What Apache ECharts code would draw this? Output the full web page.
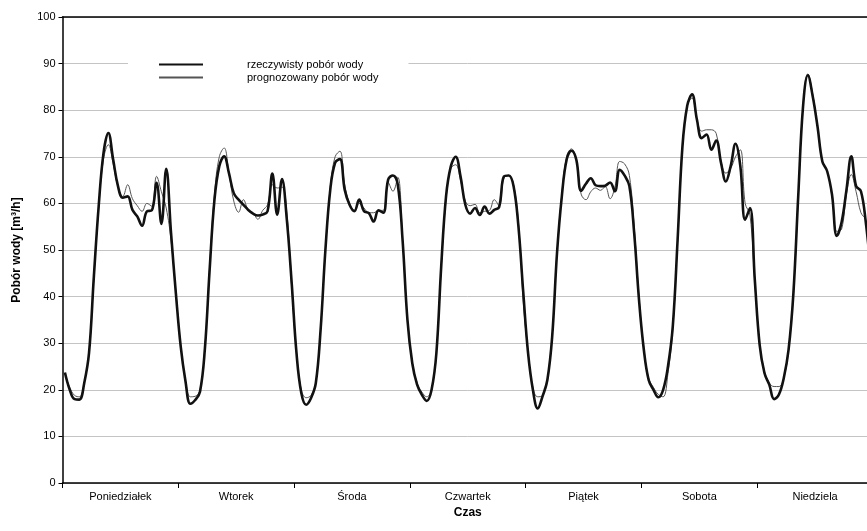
<!DOCTYPE html>
<html>
<head>
<meta charset="utf-8">
<script src="https://cdn.jsdelivr.net/npm/echarts@6/dist/echarts.min.js"></script>
<style>
  html, body { margin: 0; padding: 0; background: #fff; overflow: hidden; }
  /* wykres jest nieco szerszy niż okno - prawa krawędź obcięta jak w oryginale */
  #chart { width: 873px; height: 531px; }
</style>
</head>
<body>
<div id="chart"></div>
<script>
// dni tygodnia (kategorie osi X)
const days = ['Poniedziałek', 'Wtorek', 'Środa', 'Czwartek', 'Piątek', 'Sobota', 'Niedziela']

// rzeczywisty pobór wody, wartości godzinowe [m3/h]
const actual = [
  // pon
  23.7, 20.0, 18.0, 17.9, 21.4, 27.9, 44.3, 59.4, 70.8, 75.1, 69.4, 63.7,
  61.2, 61.5, 58.6, 57.2, 55.2, 58.3, 58.5, 64.4, 55.6, 67.4, 53.6, 40.7,
  // wt
  29.3, 21.8, 17.0, 17.8, 19.6, 28.6, 45.8, 60.8, 68.0, 70.1, 66.5, 62.2,
  60.8, 59.7, 58.6, 57.8, 57.4, 57.6, 58.3, 66.4, 57.6, 65.2, 56.5, 43.0,
  // sr
  27.9, 19.3, 16.8, 18.2, 21.4, 32.9, 50.1, 62.9, 68.7, 69.5, 62.9, 59.7,
  58.3, 60.8, 58.3, 57.9, 56.1, 58.5, 58.0, 65.1, 66.0, 64.0, 52.0, 35.0,
  // czw
  25.7, 21.1, 18.9, 17.6, 20.0, 27.9, 46.5, 61.5, 68.0, 70.0, 65.8, 59.7,
  57.8, 59.0, 57.5, 59.3, 57.8, 58.6, 59.2, 65.8, 66.0, 63.7, 55.1, 41.0,
  // pt
  27.9, 20.0, 16.0, 18.6, 22.1, 31.4, 49.3, 61.5, 69.4, 71.3, 69.4, 62.7,
  64.2, 65.4, 63.9, 63.7, 63.8, 64.5, 62.6, 67.2, 66.0, 63.7, 53.6, 39.3,
  // sob
  28.6, 22.1, 20.0, 18.4, 20.0, 25.0, 33.6, 52.2, 72.2, 81.0, 83.4, 78.0,
  74.0, 74.8, 71.5, 73.5, 68.7, 64.7, 68.0, 72.8, 68.0, 56.5, 59.0, 43.6,
  // nd
  29.7, 23.6, 21.1, 18.0, 19.0, 22.5, 28.6, 40.7, 61.5, 80.8, 87.5, 83.0,
  76.5, 69.0, 66.9, 61.9, 53.0, 56.0, 62.9, 70.1, 63.7, 62.6, 56.0, 46.0
]

// prognozowany pobór wody [m3/h]
const forecast = [
  // pon
  23.5, 20.5, 18.8, 18.5, 21.5, 28.0, 44.0, 59.0, 69.5, 72.6, 68.5, 63.5,
  61.5, 64.0, 61.0, 59.5, 58.3, 60.0, 59.4, 65.8, 62.5, 59.0, 52.0, 41.0,
  // wt
  29.5, 22.0, 18.5, 18.6, 20.0, 29.0, 46.5, 62.0, 70.0, 71.9, 66.5, 60.5,
  58.1, 60.8, 58.6, 58.0, 56.6, 58.5, 59.7, 64.0, 63.3, 63.5, 58.0, 42.0,
  // sr
  28.0, 20.0, 18.3, 18.8, 21.5, 33.0, 50.0, 63.5, 70.0, 71.2, 64.0, 60.0,
  58.6, 60.0, 59.0, 58.0, 58.0, 58.5, 58.5, 64.5, 62.6, 65.6, 52.0, 35.0,
  // czw
  26.0, 21.5, 19.5, 18.5, 20.0, 28.0, 46.0, 61.0, 67.5, 68.3, 65.0, 60.5,
  59.5, 59.8, 58.0, 58.3, 58.5, 60.8, 59.5, 65.5, 66.0, 64.0, 56.0, 39.0,
  // pt
  28.0, 20.5, 18.5, 18.8, 22.0, 31.5, 49.5, 62.0, 70.0, 71.7, 69.5, 62.0,
  60.8, 62.5, 63.3, 62.8, 63.6, 61.0, 63.5, 69.0, 68.5, 66.0, 55.0, 40.0,
  // sob
  29.0, 22.5, 20.5, 19.0, 18.5, 23.5, 33.0, 52.0, 72.0, 81.0, 82.6, 78.0,
  75.5, 75.8, 75.8, 75.0, 69.0, 66.5, 67.5, 70.0, 71.5, 60.0, 57.5, 43.0,
  // nd
  30.0, 24.0, 21.5, 20.7, 20.7, 22.5, 28.5, 40.5, 61.0, 81.0, 87.8, 83.5,
  76.5, 69.0, 66.9, 61.5, 54.0, 54.5, 62.0, 66.2, 62.5, 58.0, 56.5, 52.0
]

const chart = echarts.init(document.getElementById('chart'))

// punkty w środku godziny (jak w Excelu - "między znacznikami")
const toPoints = (arr) => arr.map((v, i) => [i + 0.5, v])

const font = 'Liberation Sans, Arial, sans-serif'

const option = {
  backgroundColor: '#fff',
  animation: false,
  textStyle: { fontFamily: font },
  grid: { left: 62.5, right: 0, top: 17, bottom: 48 },
  legend: {
    data: ['rzeczywisty pobór wody', 'prognozowany pobór wody'],
    orient: 'vertical',
    left: 128,
    top: 51,
    itemWidth: 44,
    itemHeight: 13,
    itemGap: 2,
    padding: [8, 30, 8, 30],
    backgroundColor: '#fff',
    // sama linia w legendzie, bez kółka
    itemStyle: { opacity: 0 },
    textStyle: { fontSize: 11, color: '#000', fontFamily: font, padding: [0, 0, 0, 39] }
  },
  xAxis: [
    {
      // oś wartości - godziny
      type: 'value',
      min: 0,
      max: 168,
      position: 'top',
      axisLine: { show: true, onZero: false, lineStyle: { color: '#000', width: 1.5 } },
      axisTick: { show: false },
      axisLabel: { show: false },
      splitLine: { show: false }
    },
    {
      // podpisy dni
      type: 'category',
      data: days,
      boundaryGap: true,
      position: 'bottom',
      axisLine: { show: true, lineStyle: { color: '#000', width: 1.5 } },
      axisTick: { show: true, alignWithLabel: false, length: 5, lineStyle: { color: '#000' } },
      axisLabel: { fontSize: 11, color: '#000', margin: 8, fontFamily: font },
      name: 'Czas',
      nameLocation: 'middle',
      nameGap: 24,
      nameTextStyle: { fontSize: 12, fontWeight: 'bold', color: '#000', fontFamily: font }
    }
  ],
  yAxis: {
    type: 'value',
    min: 0,
    max: 100,
    interval: 10,
    name: 'Pobór wody [m³/h]',
    nameLocation: 'middle',
    nameGap: 40,
    nameTextStyle: { fontSize: 12, fontWeight: 'bold', color: '#000', fontFamily: font },
    axisLine: { show: true, lineStyle: { color: '#000', width: 1.5 } },
    axisTick: { show: true, length: 4, lineStyle: { color: '#000' } },
    axisLabel: { fontSize: 11, color: '#000', margin: 7, fontFamily: font },
    splitLine: { show: true, lineStyle: { color: '#c4c4c4', width: 1 } }
  },
  series: [
    {
      name: 'prognozowany pobór wody',
      type: 'line',
      xAxisIndex: 0,
      data: toPoints(forecast),
      smooth: 0.4,
      symbol: 'none',
      lineStyle: { color: '#555', width: 1 },
      itemStyle: { color: '#555' }
    },
    {
      name: 'rzeczywisty pobór wody',
      type: 'line',
      xAxisIndex: 0,
      data: toPoints(actual),
      smooth: 0.4,
      symbol: 'none',
      lineStyle: { color: '#111', width: 2.6 },
      itemStyle: { color: '#111' }
    }
  ]
}

chart.setOption(option)
</script>
</body>
</html>
